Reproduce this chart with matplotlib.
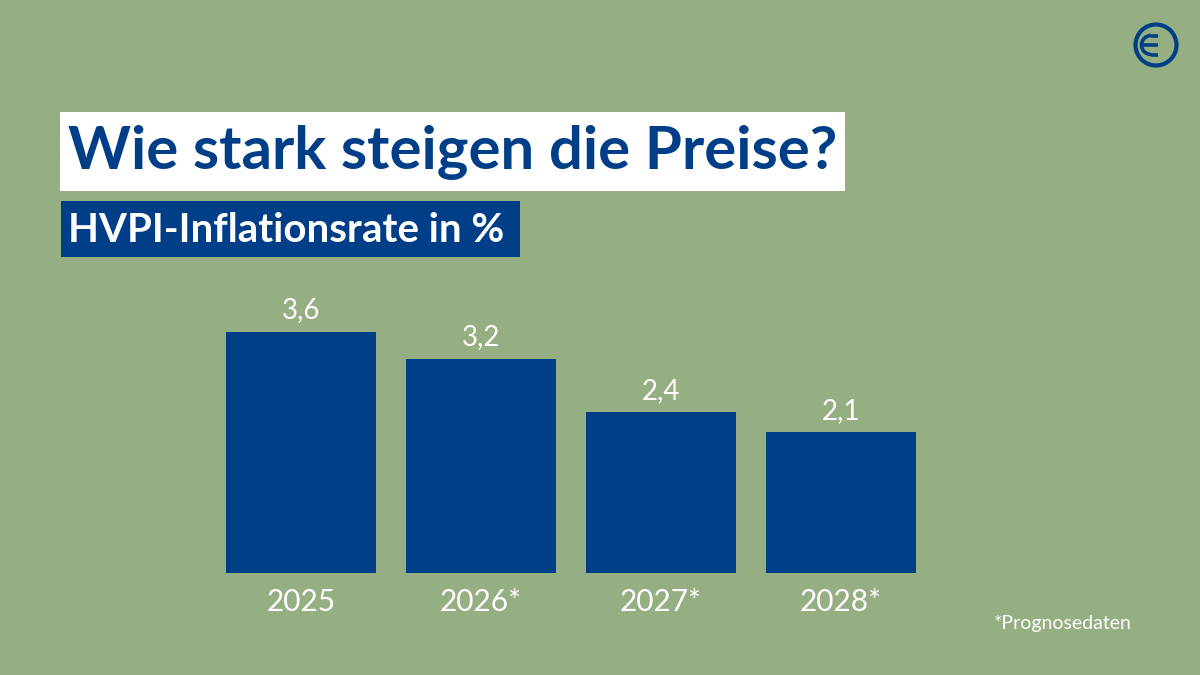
import numpy as np
import matplotlib.pyplot as plt
from matplotlib.patches import Rectangle, Circle, Arc

years = ['2025', '2026*', '2027*', '2028*']
rate = [3.6, 3.2, 2.4, 2.1]
value_labels = ['3,6', '3,2', '2,4', '2,1']
title = 'Wie stark steigen die Preise?'
subtitle = 'HVPI-Inflationsrate in %'
footnote = '*Prognosedaten'

green = '#95ae82'
blue = '#003f87'
plt.rcParams['font.family'] = ['Lato', 'DejaVu Sans']

W, H = 1200, 675
fig = plt.figure(figsize=(12, 6.75), dpi=100, facecolor=green)

# overlay in pixel coordinates for boxes, titles and logo
bg = fig.add_axes([0, 0, 1, 1])
bg.set_xlim(0, W); bg.set_ylim(H, 0)
bg.axis('off')
bg.add_patch(Rectangle((60, 112), 785, 79, facecolor='white', edgecolor='none'))
bg.text(68, 153, title, fontsize=43.2, fontweight='bold', color=blue, va='center', ha='left')
bg.add_patch(Rectangle((61, 201), 459, 56, facecolor=blue, edgecolor='none'))
bg.text(68, 230, subtitle, fontsize=29, fontweight='bold', color='white', va='center', ha='left')
bg.text(1132, 624, footnote, fontsize=14, color='white', va='center', ha='right')

# logo
bg.add_patch(Circle((1156, 45), 20.5, fill=False, edgecolor=blue, linewidth=3))
bg.add_patch(Arc((1151, 45), 19, 19, theta1=90, theta2=270, edgecolor=blue, linewidth=2.6))
for yy, x0 in [(35.5, 1151), (45, 1141.5), (54.5, 1151)]:
    bg.plot([x0, 1158], [yy, yy], color=blue, linewidth=2.6, solid_capstyle='butt')

# bar chart
ax = fig.add_axes([211 / W, (H - 573) / H, 720 / W, 268 / H])
ax.set_facecolor('none')
x = np.arange(len(years))
bars = ax.bar(x, rate, width=150 / 180, color=blue)
ax.bar_label(bars, labels=value_labels, padding=6, fontsize=20, color='white')
ax.set_xlim(-0.5, 3.5)
ax.set_ylim(0, 4)
ax.set_xticks(x, years)
ax.tick_params(axis='x', length=0, pad=11, labelsize=21.5, labelcolor='white')
ax.set_yticks([])
for s in ax.spines.values():
    s.set_visible(False)

fig.savefig('out.png', dpi=100, facecolor=green)
